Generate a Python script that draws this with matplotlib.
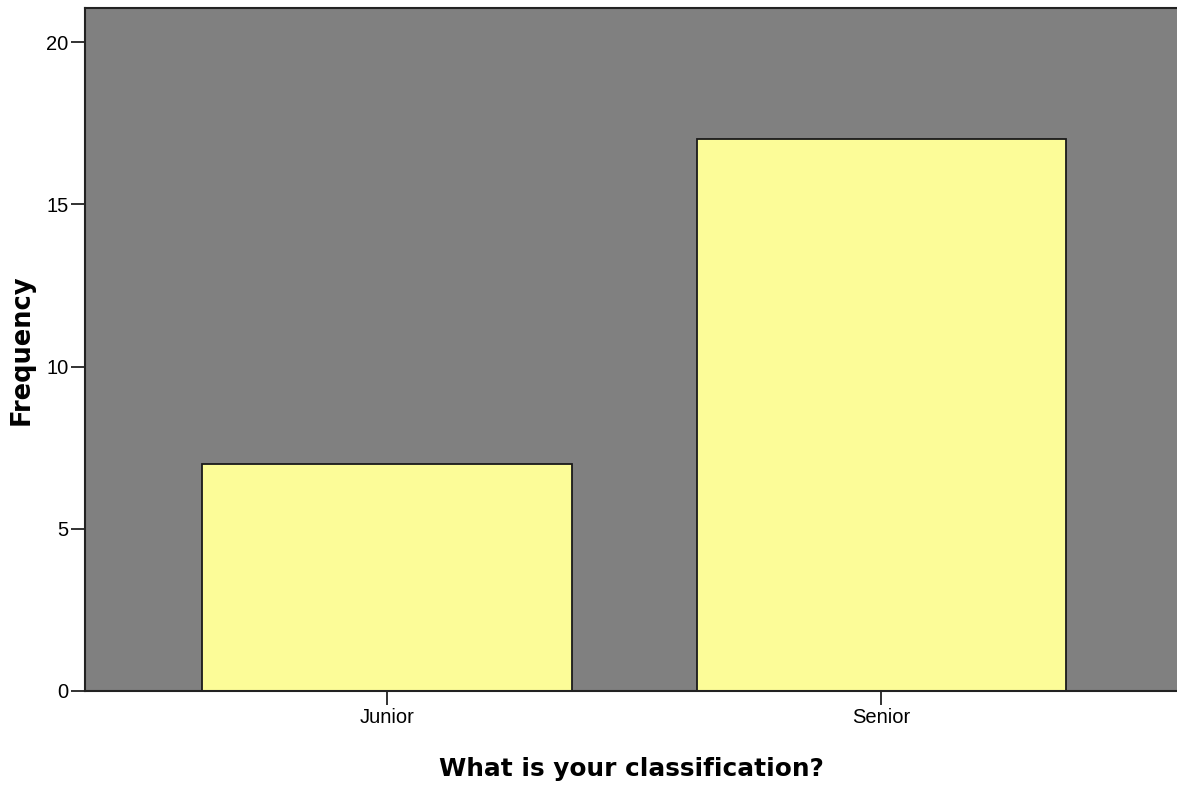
import numpy as np
import matplotlib.pyplot as plt

# Data
categories = ['Junior', 'Senior']
frequency = [7, 17]
y_ticks = [0, 5, 10, 15, 20]

plt.rcParams['font.family'] = ['Liberation Sans', 'DejaVu Sans']

fig = plt.figure(figsize=(11.77, 7.87), dpi=100)
ax = fig.add_axes([85 / 1177, 96 / 787, 1 - 85 / 1177, 683 / 787])
ax.set_facecolor('#808080')

x = np.arange(len(categories))
ax.bar(x, frequency, width=0.748, color='#FCFC98', edgecolor='#1a1a1a',
       linewidth=1.3, zorder=2)

ax.set_xlim(-0.611, 1.598)
ax.set_ylim(0, 21.05)
ax.set_xticks(x)
ax.set_xticklabels(categories)
ax.set_yticks(y_ticks)
ax.tick_params(axis='both', length=10, width=1.3, color='#222222',
               labelsize=14.5, pad=2)

for side in ['left', 'top', 'bottom']:
    ax.spines[side].set_linewidth(1.5)
    ax.spines[side].set_color('#222222')
ax.spines['right'].set_visible(False)

# axis titles are in a wider bold face than the tick labels
ax.set_xlabel('What is your classification?', fontsize=17.8,
              fontweight='bold', family='DejaVu Sans', labelpad=22)
ax.set_ylabel('Frequency', fontsize=18.5, fontweight='bold',
              family='DejaVu Sans', labelpad=8)

fig.savefig('out.png', dpi=100)
